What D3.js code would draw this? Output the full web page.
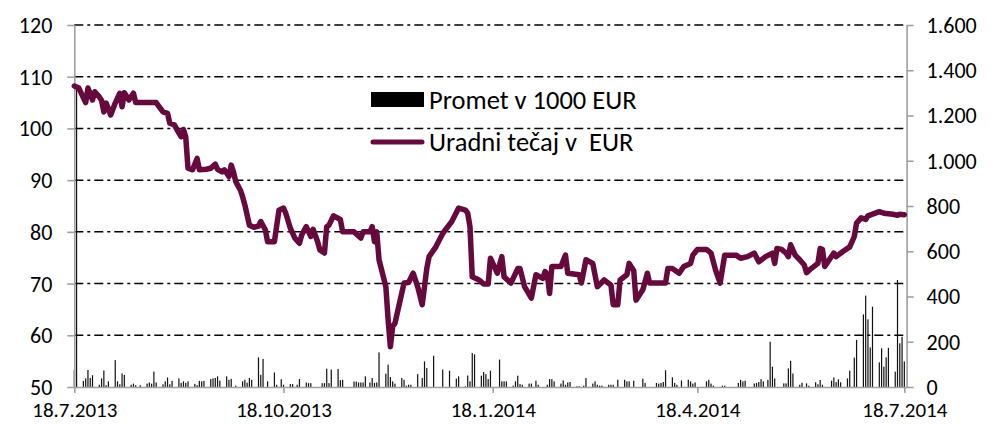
<!DOCTYPE html>
<html>
<head>
<meta charset="utf-8">
<script src="https://cdn.jsdelivr.net/npm/d3@7"></script>
<style>
    body { margin: 0; background: #fff; }
    text { font-family: Calibri, Carlito, Lato, sans-serif; fill: #000; }
</style>
</head>
<body>
<svg id="chart" width="993" height="424"></svg>
<script>
// podatki: dnevi od 18.7.2013
var zacetek = new Date(2013, 6, 18);

// uradni tecaj [dan, EUR]
var tecaj = [
    [0,108.2],[2,107.8],[5,105.0],[6,107.8],[8,105.5],[9,107.1],[11,106.1],[12,105.4],[13,103.2],[14,104.9],
    [16,102.6],[18,104.9],[20,106.8],[21,104.2],[22,106.9],[24,105.5],[26,106.8],[27,105.0],[36,105.0],[39,103.2],
    [41,102.9],[42,101.0],[44,100.7],[46,99.1],[47,98.4],[48,99.8],[49,98.4],[50,92.3],[52,92.0],[54,94.2],
    [55,92.0],[58,92.1],[60,92.3],[62,93.1],[63,92.1],[65,91.6],[66,92.0],[68,90.7],[69,92.9],[70,91.6],
    [71,89.7],[73,88.1],[74,86.8],[75,85.2],[77,81.3],[79,80.9],[81,81.1],[82,82.0],[84,80.4],[85,78.1],
    [88,78.1],[90,84.2],[92,84.6],[93,83.6],[95,80.7],[97,78.8],[99,77.8],[100,79.4],[102,81.0],[104,79.1],
    [105,80.5],[107,78.1],[108,76.5],[110,75.9],[111,81.0],[112,81.3],[114,83.1],[117,82.4],[118,80.0],[123,80.0],
    [126,78.8],[127,80.0],[130,80.0],[131,81.0],[132,78.1],[133,80.0],[134,74.6],[137,69.4],[138,63.0],[139,57.8],
    [140,61.7],[141,62.3],[143,66.2],[145,70.1],[147,70.2],[149,72.0],[151,69.4],[153,65.9],[155,72.9],[156,75.2],
    [159,77.1],[162,79.7],[166,82.0],[169,84.6],[172,84.2],[173,83.6],[174,81.0],[175,71.3],[178,70.7],[180,69.9],
    [182,69.9],[183,74.9],[185,73.0],[186,72.0],[188,75.2],[189,71.3],[192,70.1],[195,72.9],[196,72.9],[198,69.4],
    [201,67.2],[203,71.7],[206,71.0],[207,72.3],[208,71.8],[209,68.1],[210,73.3],[214,73.3],[216,75.5],[217,72.0],
    [222,71.7],[223,70.1],[225,74.6],[228,73.9],[230,69.4],[233,70.7],[236,69.7],[237,65.9],[239,65.9],[240,70.7],
    [243,71.7],[244,73.9],[246,72.5],[247,66.8],[250,68.8],[252,72.0],[253,70.1],[260,70.1],[261,72.9],[263,72.9],
    [266,72.0],[268,73.3],[271,73.9],[272,75.5],[274,76.6],[278,76.6],[280,75.9],[282,72.6],[284,70.1],[286,75.5],
    [291,75.5],[293,74.9],[296,75.2],[299,75.9],[301,74.2],[304,75.2],[307,75.9],[308,73.9],[309,76.8],[311,76.6],
    [313,75.9],[314,75.2],[315,77.5],[317,75.5],[319,74.6],[321,73.6],[322,72.1],[324,72.9],[327,73.9],[328,76.8],
    [329,76.6],[330,73.3],[332,74.6],[334,75.9],[335,75.2],[338,76.2],[341,77.1],[343,79.1],[344,81.7],[346,82.7],
    [348,82.4],[349,83.1],[354,83.9],[356,83.6],[360,83.4],[362,83.2],[363,83.4],[365,83.3]
];

// promet v 1000 EUR [dan, vrednost]
var promet = [
    [0,76],[1,1335],[4,27],[5,38],[6,75],[7,40],[8,52],[11,10],[12,38],[13,73],[14,8],[15,25],[18,119],[19,25],
    [20,12],[21,60],[22,53],[25,10],[26,15],[27,8],[29,8],[32,15],[33,20],[34,15],[35,68],[36,20],[39,12],[40,25],
    [41,42],[42,12],[43,27],[46,38],[47,18],[48,25],[49,18],[50,25],[53,14],[54,8],[55,27],[56,25],[57,27],[60,35],
    [61,38],[62,40],[63,47],[64,28],[67,47],[68,32],[69,36],[71,6],[74,25],[75,32],[76,19],[77,40],[78,32],[81,131],
    [82,54],[83,124],[85,25],[88,64],[89,10],[91,34],[92,10],[95,13],[96,13],[98,10],[99,35],[102,20],[103,17],
    [104,17],[109,17],[110,17],[111,81],[112,17],[113,77],[116,80],[117,30],[118,32],[123,24],[124,24],[125,20],
    [126,20],[127,20],[128,47],[130,20],[131,40],[132,18],[133,20],[134,153],[137,59],[138,99],[139,44],[140,25],
    [141,15],[144,40],[145,32],[146,6],[147,10],[148,10],[151,57],[153,40],[154,113],[155,84],[158,138],[162,77],
    [165,72],[168,37],[169,47],[172,3],[173,51],[174,25],[175,150],[176,144],[179,50],[180,66],[181,57],[182,35],
    [183,72],[187,121],[188,25],[189,25],[190,25],[193,6],[194,25],[195,50],[196,13],[197,10],[200,15],[201,15],
    [203,28],[204,10],[208,10],[209,35],[210,35],[211,25],[214,15],[215,29],[216,10],[217,20],[218,22],[221,3],
    [222,3],[224,6],[225,40],[228,15],[229,25],[230,10],[231,6],[232,6],[235,10],[236,10],[237,10],[239,32],
    [242,32],[243,25],[244,25],[246,28],[250,37],[251,18],[256,18],[257,15],[258,18],[259,22],[260,74],[263,43],
    [264,18],[265,10],[267,29],[270,32],[271,25],[272,15],[273,20],[278,25],[279,32],[280,15],[281,6],[285,6],
    [286,6],[292,18],[293,32],[294,25],[295,28],[299,15],[300,18],[301,22],[302,35],[303,25],[305,31],[306,200],
    [307,90],[308,38],[312,16],[313,16],[314,82],[315,116],[316,60],[319,10],[320,19],[322,16],[323,6],[326,21],
    [327,12],[328,31],[329,10],[333,28],[334,42],[335,22],[336,34],[337,21],[340,38],[341,72],[343,130],[344,208],
    [347,321],[348,404],[349,299],[350,175],[351,355],[354,109],[355,171],[356,90],[357,131],[358,173],[361,68],
    [362,473],[363,193],[364,222],[365,113]
];

var levaOs = [50, 60, 70, 80, 90, 100, 110, 120];
var desnaOs = [0, 200, 400, 600, 800, 1000, 1200, 1400, 1600];
var datumOznake = ["18.7.2013", "18.10.2013", "18.1.2014", "18.4.2014", "18.7.2014"];
var legenda = ["Promet v 1000 EUR", "Uradni te\u010daj v  EUR"];

var barvaCrte = "#660a3e";
var siva = "#a0a0a0";

var dan = function (n) { return d3.timeDay.offset(zacetek, n); };
var parseDatum = d3.timeParse("%d.%m.%Y");

var svg = d3.select("#chart");
var levo = 74.3, desno = 906.6, zgoraj = 25, spodaj = 387;

var x = d3.scaleTime()
    .domain([zacetek, dan(366)])
    .range([levo, desno]);
var yL = d3.scaleLinear().domain([50, 120]).range([spodaj, zgoraj]);
var yR = d3.scaleLinear().domain([0, 1600]).range([spodaj, zgoraj]);

var slFormat = d3.formatLocale({ decimal: ",", thousands: ".", grouping: [3], currency: ["", " EUR"] }).format(",");

// mreza
svg.append("g")
    .selectAll("line")
    .data(levaOs.filter(function (d) { return d > 50; }))
    .enter().append("line")
    .attr("x1", levo).attr("x2", desno)
    .attr("y1", function (d) { return yL(d); })
    .attr("y2", function (d) { return yL(d); })
    .style("stroke", "#000")
    .style("stroke-width", 1.5)
    .style("stroke-dasharray", "9,4,3,4");

// stolpci prometa
svg.append("g")
    .selectAll("rect")
    .data(promet)
    .enter().append("rect")
    .attr("x", function (d) { return x(dan(d[0])) - 0.6; })
    .attr("width", 1.2)
    .attr("y", function (d) { return yR(d[1]); })
    .attr("height", function (d) { return spodaj - yR(d[1]); })
    .style("fill", "#111");

// osi
var osX = svg.append("g")
    .attr("transform", "translate(0," + spodaj + ")")
    .call(d3.axisBottom(x)
        .tickValues(datumOznake.map(parseDatum))
        .tickFormat(function (d, i) { return datumOznake[i]; })
        .tickSize(6).tickSizeOuter(0).tickPadding(9));

var osL = svg.append("g")
    .attr("transform", "translate(" + levo + ",0)")
    .call(d3.axisLeft(yL).tickValues(levaOs).tickSize(7).tickSizeOuter(0).tickPadding(15));

var osR = svg.append("g")
    .attr("transform", "translate(" + desno + ",0)")
    .call(d3.axisRight(yR).tickValues(desnaOs).tickFormat(slFormat).tickSize(7).tickSizeOuter(0).tickPadding(13));

[osX, osL, osR].forEach(function (os) {
    os.selectAll("path.domain").style("stroke", siva).style("stroke-width", 1.6);
    os.selectAll(".tick line").style("stroke", siva).style("stroke-width", 1.6);
    os.selectAll("text").style("font-size", "22px").style("font-family", "Calibri, Carlito, Lato, sans-serif");
});
osX.selectAll("text").style("font-size", "21px");
osL.selectAll("text").attr("dy", "0.34em");
osR.selectAll("text").attr("dy", "0.34em");

// crta tecaja
var crta = d3.line()
    .x(function (d) { return x(dan(d[0])); })
    .y(function (d) { return yL(d[1]); });

svg.append("path")
    .datum(tecaj)
    .attr("d", crta)
    .style("fill", "none")
    .style("stroke", barvaCrte)
    .style("stroke-width", 5.5)
    .style("stroke-linejoin", "round")
    .style("stroke-linecap", "round");

// legenda
var leg = svg.append("g");
leg.append("rect")
    .attr("x", 371).attr("y", 92).attr("width", 53).attr("height", 15)
    .style("fill", "#000");
leg.append("line")
    .attr("x1", 373).attr("x2", 422).attr("y1", 142).attr("y2", 142)
    .style("stroke", barvaCrte).style("stroke-width", 5).style("stroke-linecap", "round");
leg.selectAll("text")
    .data(legenda)
    .enter().append("text")
    .attr("x", 429)
    .attr("y", function (d, i) { return 109 + i * 42; })
    .style("font-size", "26.5px")
    .style("white-space", "pre")
    .attr("xml:space", "preserve")
    .text(function (d) { return d; });
</script>
</body>
</html>
